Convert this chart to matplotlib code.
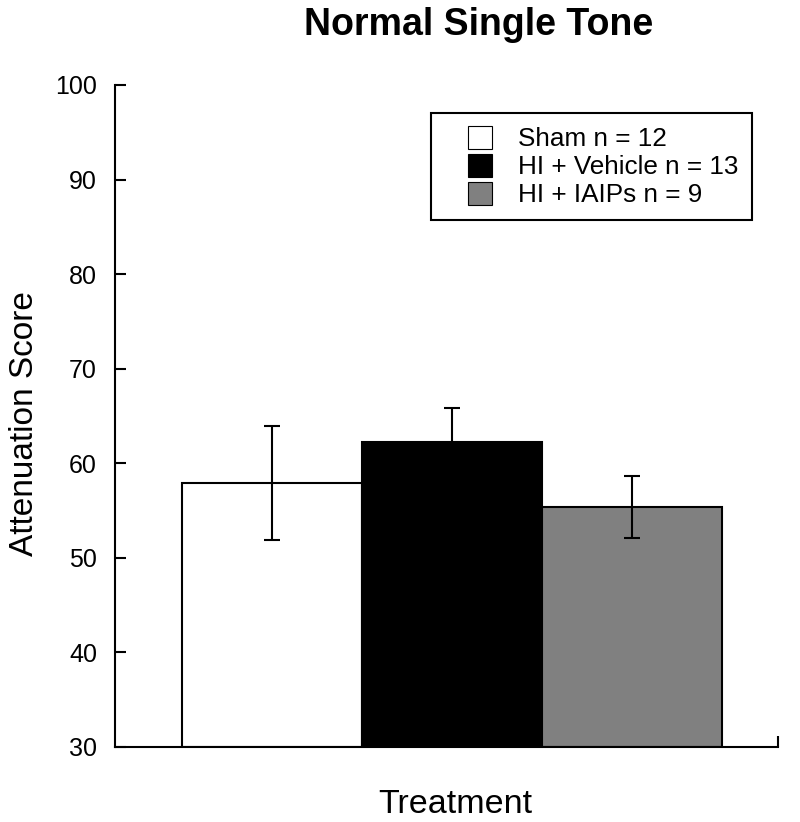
import matplotlib.pyplot as plt
import matplotlib.patches as mpatches

plt.rcParams['font.family'] = ['Liberation Sans', 'DejaVu Sans']

groups = ["Sham n = 12", "HI + Vehicle n = 13", "HI + IAIPs n = 9"]
means = [57.9, 62.2, 55.4]
errors = [6.0, 3.6, 3.3]
colors = ["white", "black", "#808080"]

W, H = 800, 822
fig = plt.figure(figsize=(8, 8.22), dpi=100)
ax = fig.add_axes([115/W, 75/H, 663/W, 662/H])

xpos = [0, 1, 2]
ax.bar(xpos, [m - 30 for m in means], bottom=30, width=1.0, color=colors,
       edgecolor="black", linewidth=1.5, zorder=2)
ax.errorbar(xpos, means, yerr=errors, fmt="none", ecolor="black",
            elinewidth=1.5, capsize=5.5, capthick=1.5, zorder=3)

ax.set_xlim(-0.872, 2.811)
ax.set_ylim(30, 100)
ax.set_yticks(range(30, 101, 10))
ax.set_xticks([2.811])
ax.set_xticklabels([""])
ax.tick_params(axis="y", direction="in", length=8, width=1.5, pad=13, labelsize=18)
ax.tick_params(axis="x", direction="in", length=8, width=1.5)
ax.spines["top"].set_visible(False)
ax.spines["right"].set_visible(False)
ax.spines["left"].set_linewidth(1.5)
ax.spines["bottom"].set_linewidth(1.5)

ax.set_ylabel("Attenuation Score", fontsize=24)
ax.yaxis.label.set_va("baseline")
ax.yaxis.set_label_coords((33 - 115) / 663, (747 - 424) / 662)
ax.set_xlabel("Treatment", fontsize=24.5)
ax.xaxis.label.set_va("baseline")
ax.xaxis.set_label_coords((455 - 115) / 663, (747 - 813) / 662)
fig.text(479/W, 1 - 35/H, "Normal Single Tone", fontsize=27,
         fontweight="bold", ha="center", va="baseline")

# legend: frame drawn separately, entries placed via legend
frame = mpatches.Rectangle((431/W, 1 - 220/H), (752 - 431)/W, (220 - 113)/H,
                           transform=fig.transFigure, facecolor="white",
                           edgecolor="black", linewidth=1.5, zorder=4)
fig.add_artist(frame)
handles = [mpatches.Patch(facecolor=c, edgecolor="black", linewidth=0.8) for c in colors]
leg = fig.legend(handles, groups, loc="center left",
                 bbox_to_anchor=(468/W, 1 - 166.5/H),
                 borderaxespad=0, borderpad=0, fontsize=18.8, frameon=False,
                 handlelength=0.92, handleheight=0.98, labelspacing=0.1,
                 handletextpad=1.0)
leg.set_zorder(5)

fig.savefig("out.png", dpi=100)
